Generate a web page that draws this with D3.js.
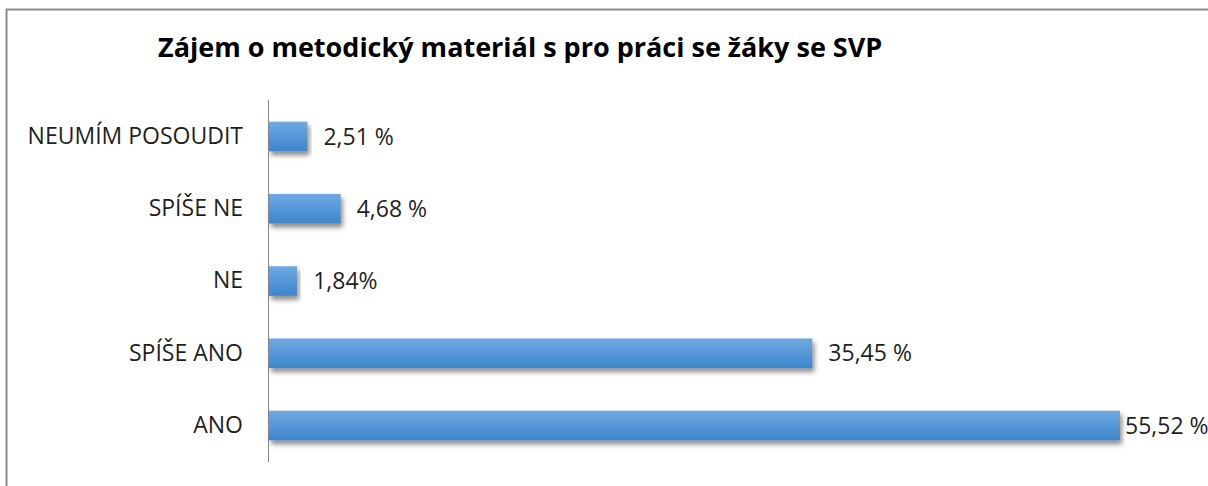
<!DOCTYPE html>
<html>
<head>
<meta charset="utf-8">
<script src="https://cdn.jsdelivr.net/npm/d3@7"></script>
<style>
  body { margin: 0; background: #fff; }
  svg { display: block; font-family: "Open Sans", sans-serif; }
</style>
</head>
<body>
<svg id="chart" width="1208" height="486"></svg>
<script>
// data
var categories = ["NEUMÍM POSOUDIT", "SPÍŠE NE", "NE", "SPÍŠE ANO", "ANO"];
var values = [2.51, 4.68, 1.84, 35.45, 55.52];
var valueLabels = ["2,51 %", "4,68 %", "1,84%", "35,45 %", "55,52 %"];
var title = "Zájem o metodický materiál s pro práci se žáky se SVP";

var svg = d3.select("#chart");
var W = 1208, H = 486;
var margin = { left: 269, top: 100, bottom: 24, right: 0 };

// frame
svg.append("rect")
  .attr("x", 6.5).attr("y", 9.5)
  .attr("width", 1230).attr("height", 520)
  .attr("fill", "none")
  .attr("stroke", "#8c8c8c")
  .attr("stroke-width", 2);

var defs = svg.append("defs");
var grad = defs.append("linearGradient")
  .attr("id", "barGrad")
  .attr("x1", 0).attr("y1", 0).attr("x2", 0).attr("y2", 1);
grad.append("stop").attr("offset", "0%").attr("stop-color", "#6fa9e2");
grad.append("stop").attr("offset", "100%").attr("stop-color", "#3d85cd");

var shadow = defs.append("filter")
  .attr("id", "shadow")
  .attr("x", "-5%").attr("y", "-20%")
  .attr("width", "115%").attr("height", "160%");
shadow.append("feDropShadow")
  .attr("dx", 2).attr("dy", 4)
  .attr("stdDeviation", 2.5)
  .attr("flood-color", "#000")
  .attr("flood-opacity", 0.45);

var x = d3.scaleLinear()
  .domain([0, 55.52])
  .range([margin.left, 1120]);

var y = d3.scaleBand()
  .domain(categories)
  .range([margin.top, H - margin.bottom])
  .paddingInner(0.59)
  .paddingOuter(0.3);

// title
svg.append("text")
  .attr("x", 158)
  .attr("y", 57)
  .attr("font-size", 27)
  .attr("font-weight", "bold")
  .attr("fill", "#000")
  .text(title);

// bars
svg.append("g")
  .selectAll("rect")
  .data(values)
  .enter()
  .append("rect")
  .attr("x", x(0))
  .attr("y", function (d, i) { return y(categories[i]); })
  .attr("width", function (d) { return x(d) - x(0); })
  .attr("height", y.bandwidth())
  .attr("fill", "url(#barGrad)")
  .attr("filter", "url(#shadow)");

// value labels
svg.append("g")
  .selectAll("text")
  .data(values)
  .enter()
  .append("text")
  .attr("x", function (d) { return Math.min(x(d) + 16, 1125); })
  .attr("y", function (d, i) { return y(categories[i]) + y.bandwidth() / 2; })
  .attr("dy", "0.35em")
  .attr("font-size", 23)
  .attr("fill", "#1f1f1f")
  .text(function (d, i) { return valueLabels[i]; });

// y axis
var yAxis = d3.axisLeft(y).tickSize(0).tickPadding(25);
var ga = svg.append("g")
  .attr("transform", "translate(" + (margin.left - 1) + ",0)")
  .call(yAxis);
ga.select(".domain")
  .attr("d", "M0.5," + margin.top + "V" + (H - margin.bottom))
  .attr("stroke", "#868686");
ga.selectAll("text")
  .attr("font-family", "Open Sans, sans-serif")
  .attr("font-size", 23)
  .attr("fill", "#1f1f1f");
</script>
</body>
</html>
